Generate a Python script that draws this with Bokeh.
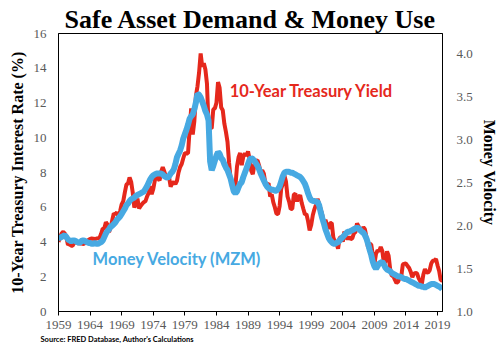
from bokeh.plotting import figure
from bokeh.models import Range1d, LinearAxis, FixedTicker, PrintfTickFormatter, Label, Title
from bokeh.embed import file_html
from bokeh.resources import INLINE

start_year = 1959
x_ticks = [1959, 1964, 1969, 1974, 1979, 1984, 1989, 1994, 1999, 2004, 2009, 2014, 2019]
left_ticks = [0, 2, 4, 6, 8, 10, 12, 14, 16]
right_ticks = [1.0, 1.5, 2.0, 2.5, 3.0, 3.5, 4.0]

# 10-year treasury yield, quarterly (1959Q1 .. 2019Q4)
yield_10y = [
    4.00, 4.29, 4.50, 4.59,  4.49, 4.26, 3.83, 3.89,  3.79, 3.79, 3.98, 3.97,
    4.02, 3.87, 3.99, 3.90,  3.89, 3.96, 4.02, 4.12,  4.18, 4.20, 4.19, 4.17,
    4.20, 4.21, 4.25, 4.47,  4.77, 4.78, 5.14, 5.00,  4.58, 4.82, 5.24, 5.65,
    5.59, 5.71, 5.45, 5.77,  6.17, 6.35, 6.86, 7.30,  7.37, 7.71, 7.46, 6.85,
    5.99, 6.19, 6.50, 5.93,  6.08, 6.19, 6.29, 6.34,  6.60, 6.81, 7.21, 6.75,
    7.05, 7.54, 7.96, 7.67,  7.54, 8.05, 8.30, 8.06,  7.75, 7.77, 7.73, 7.19,
    7.37, 7.46, 7.33, 7.52,  8.00, 8.32, 8.49, 8.82,  9.11, 9.11, 9.10, 10.45,
    11.69, 10.18, 10.95, 12.42,  12.96, 13.75, 14.85, 14.09,  14.29, 13.93, 13.11, 10.67,
    10.56, 10.54, 11.63, 11.69,  12.01, 13.20, 12.87, 11.74,  11.58, 10.81, 10.34, 9.76,
    8.56, 7.60, 7.31, 7.26,  7.19, 8.34, 8.88, 9.12,  8.42, 8.91, 9.10, 8.96,
    9.21, 8.77, 8.11, 7.91,  8.42, 8.68, 8.70, 8.40,  8.02, 8.13, 7.94, 7.35,
    7.30, 7.38, 6.62, 6.74,  6.28, 5.99, 5.62, 5.61,  6.07, 7.08, 7.33, 7.84,
    7.48, 6.62, 6.32, 5.89,  5.91, 6.72, 6.78, 6.34,  6.56, 6.70, 6.24, 5.91,
    5.59, 5.60, 5.20, 4.67,  4.98, 5.54, 5.88, 6.14,  6.48, 6.18, 5.89, 5.57,
    5.05, 5.27, 4.98, 4.77,  5.08, 5.10, 4.26, 4.01,  3.92, 3.62, 4.23, 4.29,
    4.02, 4.60, 4.30, 4.17,  4.30, 4.16, 4.21, 4.49,  4.57, 5.07, 4.90, 4.63,
    4.68, 4.85, 4.73, 4.26,  3.66, 3.89, 3.86, 3.25,  2.74, 3.31, 3.52, 3.46,
    3.72, 3.49, 2.79, 2.86,  3.46, 3.21, 2.43, 2.05,  2.04, 1.82, 1.64, 1.71,
    1.95, 2.00, 2.71, 2.75,  2.76, 2.62, 2.50, 2.28,  1.97, 2.17, 2.22, 2.19,
    1.92, 1.75, 1.56, 2.13,  2.44, 2.26, 2.24, 2.37,  2.76, 2.92, 2.93, 3.03,
    2.65, 2.33, 1.80, 1.79,
]

# MZM money velocity, quarterly (1959Q1 .. 2019Q4)
velocity_mzm = [
    1.86, 1.86, 1.87, 1.88,  1.89, 1.87, 1.84, 1.83,  1.82, 1.83, 1.83, 1.82,
    1.81, 1.80, 1.81, 1.83,  1.83, 1.82, 1.81, 1.80,  1.80, 1.79, 1.79, 1.80,
    1.79, 1.79, 1.80, 1.81,  1.83, 1.87, 1.91, 1.94,  1.96, 1.99, 2.00, 2.02,
    2.04, 2.07, 2.09, 2.11,  2.14, 2.17, 2.20, 2.24,  2.26, 2.29, 2.31, 2.32,
    2.33, 2.35, 2.36, 2.37,  2.38, 2.39, 2.40, 2.43,  2.46, 2.50, 2.54, 2.57,
    2.59, 2.60, 2.61, 2.61,  2.61, 2.61, 2.60, 2.58,  2.57, 2.56, 2.58, 2.61,
    2.63, 2.66, 2.72, 2.80,  2.84, 2.88, 2.94, 3.02,  3.07, 3.12, 3.18, 3.25,
    3.28, 3.30, 3.36, 3.44,  3.54, 3.53, 3.50, 3.45,  3.40, 3.34, 3.30, 3.23,
    2.75, 2.65, 2.70, 2.76,  2.82, 2.86, 2.84, 2.79,  2.77, 2.72, 2.68, 2.65,
    2.60, 2.55, 2.47, 2.40,  2.38, 2.40, 2.45, 2.49,  2.51, 2.57, 2.62, 2.67,
    2.72, 2.77, 2.79, 2.78,  2.76, 2.73, 2.70, 2.66,  2.61, 2.57, 2.53, 2.49,
    2.46, 2.44, 2.43, 2.42,  2.42, 2.41, 2.41, 2.43,  2.46, 2.52, 2.58, 2.62,
    2.63, 2.63, 2.63, 2.62,  2.62, 2.61, 2.60, 2.59,  2.58, 2.57, 2.55, 2.52,
    2.49, 2.44, 2.38, 2.33,  2.30, 2.29, 2.29, 2.28,  2.28, 2.24, 2.16, 2.09,
    2.03, 1.96, 1.91, 1.86,  1.83, 1.81, 1.79, 1.79,  1.80, 1.81, 1.83, 1.85,
    1.87, 1.89, 1.91, 1.93,  1.93, 1.94, 1.95, 1.96,  1.97, 1.98, 1.97, 1.95,
    1.93, 1.92, 1.89, 1.85,  1.79, 1.72, 1.66, 1.58,  1.53, 1.50, 1.53, 1.56,
    1.57, 1.58, 1.55, 1.51,  1.49, 1.48, 1.47, 1.45,  1.44, 1.43, 1.42, 1.41,
    1.41, 1.40, 1.39, 1.38,  1.38, 1.37, 1.36, 1.35,  1.34, 1.33, 1.32, 1.31,
    1.30, 1.30, 1.29, 1.29,  1.28, 1.29, 1.30, 1.31,  1.32, 1.32, 1.32, 1.31,
    1.30, 1.29, 1.28, 1.26,
]

dates = [start_year + i / 4 for i in range(len(yield_10y))]

RED = "#E5281C"
BLUE = "#47A9E2"
SERIF = "Liberation Serif"
SANS = "Lato"

p = figure(width=500, height=350, output_backend="svg", toolbar_location=None,
           x_range=Range1d(1959, 2019.78), y_range=Range1d(0, 16),
           min_border_left=58, min_border_right=50, min_border_top=33, min_border_bottom=39)
p.outline_line_color = "black"
p.outline_line_width = 1
p.xgrid.visible = False
p.ygrid.visible = False
p.background_fill_color = "white"
p.border_fill_color = "white"

p.title.text = "Safe Asset Demand & Money Use"
p.title.align = "center"
p.title.text_font = SERIF
p.title.text_font_style = "bold"
p.title.text_font_size = "26px"
p.title.text_color = "black"
p.title.standoff = 0
p.title.offset = -4

p.extra_y_ranges = {"mv": Range1d(1.0, 4.245)}

p.line(dates, yield_10y, line_color=RED, line_width=4)
p.line(dates, velocity_mzm, line_color=BLUE, line_width=6, y_range_name="mv")

# bottom axis
xa = p.xaxis[0]
xa.ticker = FixedTicker(ticks=x_ticks)
xa.minor_tick_line_color = None
xa.major_tick_in = 0
xa.major_tick_out = 4
xa.axis_line_color = "black"
xa.major_tick_line_color = "black"
xa.major_label_text_font = SERIF
xa.major_label_text_font_size = "13px"
xa.major_label_text_color = "#595959"
xa.major_label_standoff = 5

# left axis
ya = p.yaxis[0]
ya.ticker = FixedTicker(ticks=left_ticks)
ya.minor_tick_line_color = None
ya.major_tick_line_color = None
ya.axis_line_color = "black"
ya.major_label_text_font = SERIF
ya.major_label_text_font_size = "13px"
ya.major_label_text_color = "#595959"
ya.major_label_standoff = 6
ya.axis_label = "10-Year Treasury Interest Rate (%)"
ya.axis_label_text_font = SERIF
ya.axis_label_text_font_style = "bold"
ya.axis_label_text_font_size = "16px"
ya.axis_label_text_color = "black"
ya.axis_label_standoff = 5

# right axis
ra = LinearAxis(y_range_name="mv", ticker=FixedTicker(ticks=right_ticks),
                formatter=PrintfTickFormatter(format="%.1f"))
ra.minor_tick_line_color = None
ra.major_tick_line_color = None
ra.axis_line_color = "black"
ra.major_label_text_font = SERIF
ra.major_label_text_font_size = "13px"
ra.major_label_text_color = "#595959"
ra.major_label_standoff = 8
ra.axis_label = "Money Velocity"
ra.axis_label_text_font = SERIF
ra.axis_label_text_font_style = "bold"
ra.axis_label_text_font_size = "16px"
ra.axis_label_text_color = "black"
ra.axis_label_standoff = 5
p.add_layout(ra, "right")

# series annotations
p.add_layout(Label(x=1986.1, y=12.7, text="10-Year Treasury Yield", text_color=RED,
                   text_font=SANS, text_font_style="bold", text_font_size="16.5px",
                   text_baseline="middle"))
p.add_layout(Label(x=1964.4, y=3.05, text="Money Velocity (MZM)", text_color=BLUE,
                   text_font=SANS, text_font_style="bold", text_font_size="16.5px",
                   text_baseline="middle"))

# source
src = Title(text="Source: FRED Database, Author's Calculations", align="left",
            text_font=SANS, text_font_style="bold", text_font_size="7.5px",
            text_color="black", offset=-18, standoff=3)
p.add_layout(src, "below")

open("out.html", "w").write(file_html(p, INLINE))
